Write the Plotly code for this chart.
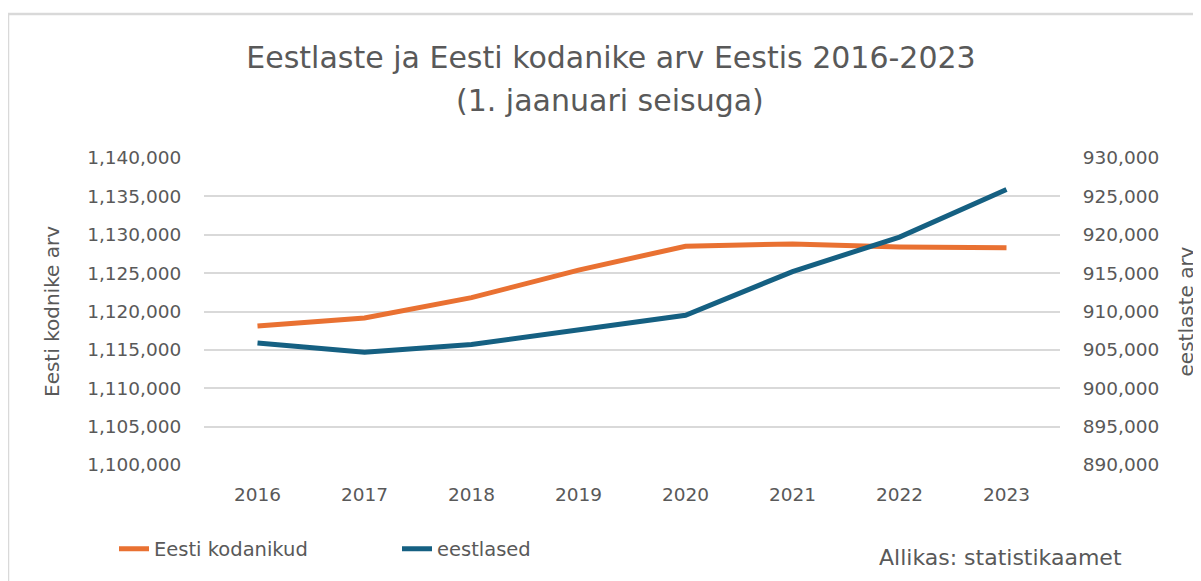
import plotly.graph_objects as go

years = ["2016", "2017", "2018", "2019", "2020", "2021", "2022", "2023"]
kodanikud = [1118100, 1119150, 1121800, 1125400, 1128500, 1128800, 1128400, 1128300]
eestlased = [905900, 904700, 905700, 907600, 909500, 915200, 919700, 925900]

left_ticks = list(range(1100000, 1140001, 5000))
right_ticks = list(range(890000, 930001, 5000))

FONT = "DejaVu Sans"
GREY = "#595959"
ORANGE = "#E97132"
BLUE = "#156082"

OFF = 8  # page body margin
W, H = 1201 - OFF, 581 - OFF
L, R, T, B = 204 - OFF, 141, 158 - OFF, 116
pw, ph = W - L - R, H - T - B


def px(x):  # page x -> paper
    return (x - OFF - L) / pw


def py(y):  # page y -> paper
    return (H - B - (y - OFF)) / ph


fig = go.Figure()
fig.add_trace(go.Scatter(x=years, y=kodanikud, name="Eesti kodanikud", mode="lines",
                         line=dict(color=ORANGE, width=5), yaxis="y"))
fig.add_trace(go.Scatter(x=years, y=eestlased, name="eestlased", mode="lines",
                         line=dict(color=BLUE, width=5), yaxis="y2"))

fig.update_layout(
    width=W, height=H,
    margin=dict(l=L, r=R, t=T, b=B, autoexpand=False),
    paper_bgcolor="white", plot_bgcolor="white",
    font=dict(family=FONT, color=GREY, size=18),
    title=dict(text="Eestlaste ja Eesti kodanike arv Eestis 2016-2023",
               x=(611 - OFF) / W, xanchor="center", xref="container",
               y=1 - (57 - OFF) / H, yanchor="middle",
               font=dict(family=FONT, size=30, color=GREY)),
    xaxis=dict(type="category", range=[-0.5, 7.5], showgrid=False, zeroline=False,
               showline=False, ticks="outside", ticklen=13, tickcolor="rgba(0,0,0,0)",
               tickfont=dict(size=18.5, color=GREY)),
    yaxis=dict(range=[1100000, 1140000], tickvals=left_ticks, tickformat=",",
               showgrid=True, gridcolor="#d9d9d9", gridwidth=1.5, zeroline=False,
               showline=False, ticks="outside", ticklen=18, tickcolor="rgba(0,0,0,0)",
               tickfont=dict(size=18.5, color=GREY),
               title=dict(text="Eesti kodnike arv", standoff=22,
                          font=dict(size=20, color=GREY))),
    yaxis2=dict(range=[890000, 930000], tickvals=right_ticks, tickformat=",",
                overlaying="y", side="right", showgrid=False, zeroline=False,
                showline=False, ticks="outside", ticklen=18, tickcolor="rgba(0,0,0,0)",
                tickfont=dict(size=18.5, color=GREY),
                title=dict(text="eestlaste arv", standoff=20,
                           font=dict(size=20, color=GREY))),
    showlegend=True,
    legend=dict(orientation="h", x=px(114), xanchor="left", y=py(549), yanchor="middle",
                entrywidth=238, entrywidthmode="pixels",
                font=dict(size=19.5, color=GREY), bgcolor="rgba(0,0,0,0)"),
)

fig.add_annotation(text="(1. jaanuari seisuga)", xref="paper", yref="paper",
                   x=px(610), y=py(101), xanchor="center", yanchor="middle",
                   showarrow=False, font=dict(family=FONT, size=30, color=GREY))
fig.add_annotation(text="Allikas: statistikaamet", xref="paper", yref="paper",
                   x=px(877), y=py(557), xanchor="left", yanchor="middle",
                   showarrow=False, font=dict(family=FONT, size=22, color=GREY))

fig.add_shape(type="rect", xref="paper", yref="paper",
              x0=px(8), x1=px(1240), y0=py(640), y1=py(14),
              line=dict(color="#d9d9d9", width=2.5), fillcolor="rgba(0,0,0,0)", layer="below")

fig.write_html("out.html")
